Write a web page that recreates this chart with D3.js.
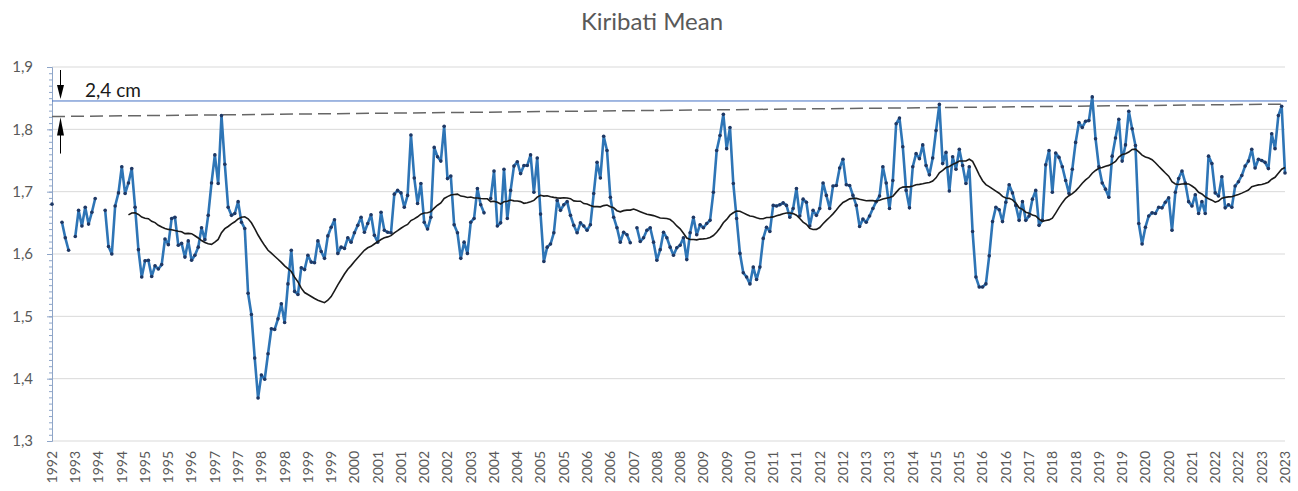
<!DOCTYPE html>
<html>
<head>
<meta charset="utf-8">
<script src="https://d3js.org/d3.v7.min.js"></script>
<style>
  body { margin: 0; background: #fff; }
  svg { display: block; font-family: Lato, "Open Sans", sans-serif; }
</style>
</head>
<body>
<svg width="1298" height="491"></svg>
<script>
// monthly mean sea level (m), Dec 1992 .. Nov 2023, null = missing month
const seaLevel = [
  1.680, null, null, 1.651, 1.626, 1.606, null, 1.628, 1.670, 1.645, 1.675, 1.648,
  1.667, 1.689, null, null, 1.670, 1.612, 1.600, 1.677, 1.698, 1.740, 1.697, 1.714,
  1.737, 1.675, 1.607, 1.563, 1.589, 1.590, 1.564, 1.581, 1.576, 1.583, 1.624, 1.615,
  1.657, 1.659, 1.614, 1.617, 1.595, 1.621, 1.590, 1.598, 1.611, 1.642, 1.623, 1.662,
  1.714, 1.759, 1.713, 1.822, 1.744, 1.675, 1.662, 1.665, 1.684, 1.651, 1.641, 1.537,
  1.503, 1.433, 1.369, 1.406, 1.399, 1.440, 1.480, 1.479, 1.496, 1.520, 1.490, 1.552,
  1.606, 1.540, 1.535, 1.578, 1.575, 1.598, 1.587, 1.586, 1.621, 1.604, 1.593, 1.629,
  1.643, 1.655, 1.601, 1.611, 1.609, 1.626, 1.619, 1.634, 1.646, 1.659, 1.635, 1.649,
  1.663, 1.630, 1.619, 1.667, 1.638, 1.635, 1.634, 1.696, 1.702, 1.698, 1.675, 1.694,
  1.791, 1.722, 1.681, 1.713, 1.651, 1.640, 1.659, 1.771, 1.756, 1.749, 1.805, 1.721,
  1.725, 1.647, 1.634, 1.593, 1.619, 1.601, 1.651, 1.657, 1.705, 1.679, 1.666, null,
  1.689, 1.733, 1.645, 1.650, 1.736, 1.657, 1.702, 1.741, 1.748, 1.729, 1.742, 1.742,
  1.759, 1.699, 1.754, 1.664, 1.588, 1.611, 1.616, 1.634, 1.686, 1.670, 1.679, 1.684,
  1.662, 1.646, 1.634, 1.650, 1.645, 1.638, 1.647, 1.697, 1.747, 1.722, 1.789, 1.766,
  1.691, 1.659, 1.642, 1.619, 1.635, 1.631, 1.618, null, 1.642, 1.620, 1.626, 1.638,
  1.642, 1.619, 1.590, 1.607, 1.635, 1.626, 1.611, 1.598, 1.610, 1.614, 1.626, 1.591,
  1.634, 1.659, 1.631, 1.647, 1.642, 1.649, 1.654, 1.699, 1.766, 1.790, 1.824, 1.769,
  1.803, 1.713, 1.657, 1.601, 1.570, 1.563, 1.552, 1.579, 1.559, 1.579, 1.625, 1.643,
  1.636, 1.678, 1.677, 1.679, 1.682, 1.678, 1.659, 1.673, 1.705, 1.661, 1.688, 1.683,
  1.645, 1.670, 1.662, 1.673, 1.714, 1.694, 1.673, 1.709, 1.710, 1.738, 1.752, 1.711,
  1.710, 1.694, 1.678, 1.644, 1.656, 1.651, 1.661, 1.673, 1.684, 1.693, 1.740, 1.714,
  1.673, 1.718, 1.809, 1.818, 1.772, 1.702, 1.674, 1.740, 1.761, 1.753, 1.775, 1.742,
  1.727, 1.754, 1.798, 1.840, 1.745, 1.763, 1.701, 1.756, 1.736, 1.768, 1.742, 1.713,
  1.740, 1.636, 1.563, 1.547, 1.547, 1.552, 1.597, 1.652, 1.675, 1.671, 1.652, 1.683,
  1.711, 1.698, 1.678, 1.654, 1.684, 1.654, 1.661, 1.688, 1.702, 1.646, 1.654, 1.743,
  1.766, 1.699, 1.762, 1.755, 1.740, 1.718, 1.697, 1.736, 1.779, 1.811, 1.803, 1.813,
  1.814, 1.852, 1.785, 1.740, 1.714, 1.704, 1.691, 1.757, 1.786, 1.816, 1.749, 1.775,
  1.829, 1.801, 1.774, 1.649, 1.616, 1.643, 1.661, 1.666, 1.665, 1.675, 1.674, 1.683,
  1.690, 1.638, 1.699, 1.721, 1.733, 1.714, 1.684, 1.677, 1.695, 1.665, 1.684, 1.665,
  1.757, 1.745, 1.698, 1.693, 1.724, 1.674, 1.679, 1.675, 1.709, 1.716, 1.726, 1.741,
  1.749, 1.768, 1.738, 1.752, 1.750, 1.747, 1.737, 1.793, 1.769, 1.822, 1.837, 1.730
];

// one label every 7th month
const xTickLabels = [
  '1992', '1993', '1994', '1994', '1995', '1995', '1996', '1997', '1997', '1998',
  '1998', '1999', '1999', '2000', '2001', '2001', '2002', '2002', '2003', '2004',
  '2004', '2005', '2005', '2006', '2006', '2007', '2008', '2008', '2009', '2009',
  '2010', '2011', '2011', '2012', '2012', '2013', '2013', '2014', '2015', '2015',
  '2016', '2016', '2017', '2018', '2018', '2019', '2019', '2020', '2020', '2021',
  '2022', '2022', '2023', '2023'
];
const labelStep = 7;

const yTicks = [1.3, 1.4, 1.5, 1.6, 1.7, 1.8, 1.9];

// annotation levels
const refLevel = 1.8455;            // blue horizontal line
const trendEnds = [1.8205, 1.8405]; // dashed line, first and last month
const gapLabel = '2,4 cm';
const maPeriod = 24;

const title = 'Kiribati Mean';

// plot box (note: "top" is reserved on window, so prefix everything)
var plotLeft = 52, plotRight = 1285, plotTop = 67, plotBottom = 441;

var svg = d3.select('svg');

var months = d3.range(seaLevel.length);

var x = d3.scalePoint()
  .domain(months)
  .range([plotLeft, plotRight]);

var y = d3.scaleLinear()
  .domain([1.3, 1.9])
  .range([plotBottom, plotTop]);

var comma = d3.formatLocale({decimal: ',', thousands: '.', grouping: [3], currency: ['', '']}).format('.1f');

// title
svg.append('text')
  .attr('x', 652)
  .attr('y', 30)
  .attr('text-anchor', 'middle')
  .attr('font-size', '24px')
  .attr('fill', '#595959')
  .text(title);

// gridlines
svg.append('g')
  .selectAll('line')
  .data(yTicks.slice(1))
  .enter().append('line')
    .attr('x1', plotLeft)
    .attr('x2', plotRight)
    .attr('y1', d => y(d))
    .attr('y2', d => y(d))
    .attr('stroke', '#d9d9d9')
    .attr('stroke-width', 1);

// x axis line
svg.append('line')
  .attr('x1', plotLeft).attr('x2', plotRight)
  .attr('y1', plotBottom).attr('y2', plotBottom)
  .attr('stroke', '#d9d9d9');

// y axis with minor ticks
var yAxis = svg.append('g')
  .attr('transform', 'translate(' + plotLeft + ',0)')
  .call(d3.axisLeft(y).tickValues(d3.range(130, 191).map(d => d / 100)).tickSize(3).tickFormat(''));
yAxis.select('.domain').attr('stroke', '#8ea5c8');
yAxis.selectAll('.tick line').attr('stroke', '#8ea5c8');

svg.append('g')
  .attr('transform', 'translate(' + plotLeft + ',0)')
  .call(d3.axisLeft(y).tickValues(yTicks).tickSize(5).tickPadding(14).tickFormat(comma))
  .call(g => g.select('.domain').remove())
  .call(g => g.selectAll('.tick line').attr('stroke', '#8ea5c8'))
  .call(g => g.selectAll('.tick text')
    .attr('fill', '#595959')
    .attr('font-size', '15px')
    .attr('font-family', 'Lato, "Open Sans", sans-serif'));

// x labels, rotated
svg.append('g')
  .selectAll('text')
  .data(xTickLabels)
  .enter().append('text')
    .attr('transform', (d, i) => 'translate(' + x(i * labelStep) + ',' + (plotBottom + 10) + ')rotate(-90)')
    .attr('text-anchor', 'end')
    .attr('dy', '0.35em')
    .attr('font-size', '14px')
    .attr('fill', '#595959')
    .text(d => d);

// reference level + dashed line through the peaks
svg.append('line')
  .attr('x1', plotLeft).attr('x2', plotRight + 2)
  .attr('y1', y(refLevel)).attr('y2', y(refLevel))
  .attr('stroke', '#4472c4')
  .attr('stroke-width', 1);

svg.append('line')
  .attr('x1', x(0)).attr('x2', x(months.length - 1))
  .attr('y1', y(trendEnds[0])).attr('y2', y(trendEnds[1]))
  .attr('stroke', '#666')
  .attr('stroke-width', 1.5)
  .attr('stroke-dasharray', '13,6');

// sea level series
var line = d3.line()
  .defined(d => d != null)
  .x((d, i) => x(i))
  .y(d => y(d));

svg.append('path')
  .datum(seaLevel)
  .attr('d', line)
  .attr('fill', 'none')
  .attr('stroke', '#2e75b6')
  .attr('stroke-width', 2.6)
  .attr('stroke-linejoin', 'round');

svg.append('g')
  .selectAll('circle')
  .data(seaLevel.map((v, i) => [i, v]).filter(d => d[1] != null))
  .enter().append('circle')
    .attr('cx', d => x(d[0]))
    .attr('cy', d => y(d[1]))
    .attr('r', 1.8)
    .attr('fill', '#1f3864');

// trailing moving average trendline
var movingAvg = seaLevel.map((v, i) => i < maPeriod - 1 ? null : d3.mean(seaLevel.slice(i - maPeriod + 1, i + 1)));

svg.append('path')
  .datum(movingAvg)
  .attr('d', line)
  .attr('fill', 'none')
  .attr('stroke', '#1a1a1a')
  .attr('stroke-width', 1.6);

// 2,4 cm arrows
var ax = 60.5;
var arrows = svg.append('g').attr('stroke', '#000').attr('fill', '#000');
arrows.append('line').attr('x1', ax).attr('x2', ax).attr('y1', plotTop + 3).attr('y2', y(refLevel) - 10).attr('stroke-width', 1);
arrows.append('path')
  .attr('d', 'M' + ax + ',' + (y(refLevel) - 2) + 'L' + (ax - 3.5) + ',' + (y(refLevel) - 16) + 'L' + (ax + 3.5) + ',' + (y(refLevel) - 16) + 'Z')
  .attr('stroke', 'none');
arrows.append('line').attr('x1', ax).attr('x2', ax).attr('y1', y(trendEnds[0]) + 10).attr('y2', y(trendEnds[0]) + 37).attr('stroke-width', 1);
arrows.append('path')
  .attr('d', 'M' + ax + ',' + (y(trendEnds[0]) + 1) + 'L' + (ax - 3.5) + ',' + (y(trendEnds[0]) + 19) + 'L' + (ax + 3.5) + ',' + (y(trendEnds[0]) + 19) + 'Z')
  .attr('stroke', 'none');

svg.append('text')
  .attr('x', 85)
  .attr('y', 97)
  .attr('font-size', '19px')
  .attr('fill', '#1a1a1a')
  .text(gapLabel);
</script>
</body>
</html>
